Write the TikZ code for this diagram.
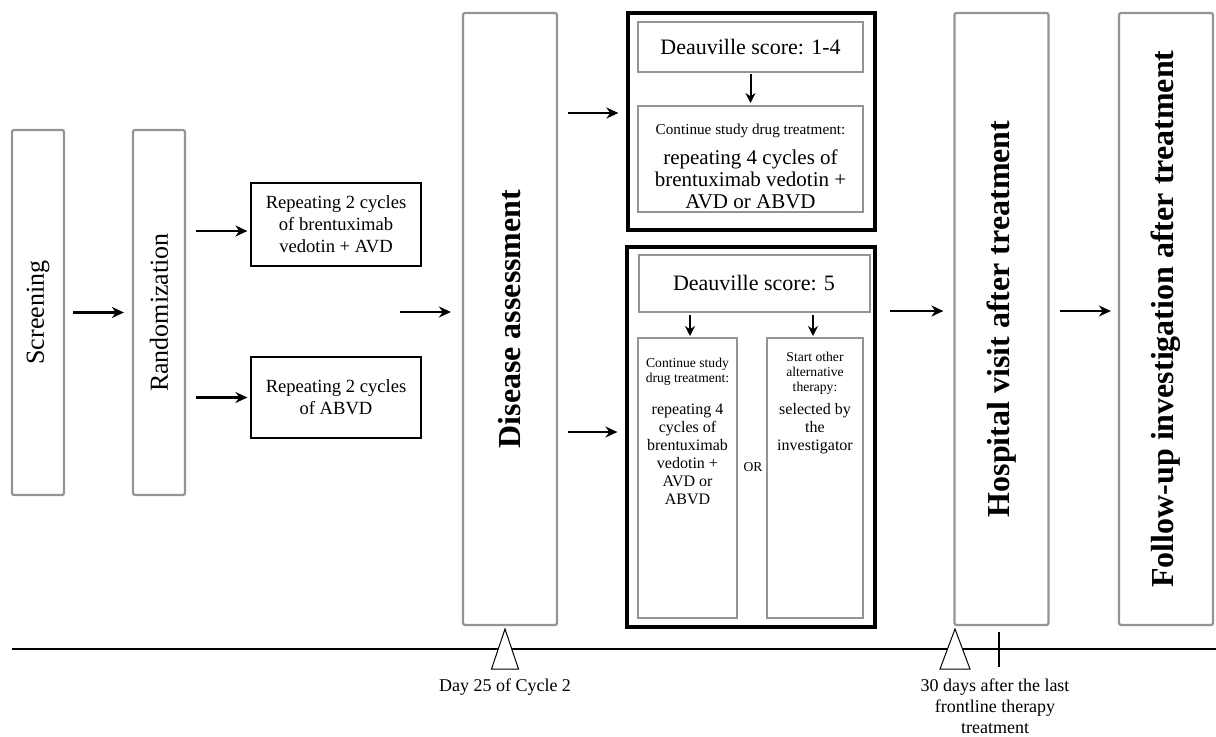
\documentclass[tikz,border=0pt]{standalone}
\usepackage{graphicx}
\usepackage{fontspec}
\setmainfont{Liberation Serif}
\usepackage{tikz}
\usetikzlibrary{positioning,arrows.meta,calc}

\newcommand{\tinytxt}{\fontsize{6.8}{7.5}\selectfont}
\newcommand{\subtxt}{\fontsize{8}{9}\selectfont}
\newcommand{\titletxt}{\fontsize{16}{19}\selectfont\bfseries}

\begin{document}
\begin{tikzpicture}[
        x=0.5pt, y=-0.5pt,
        stage/.style={draw=black!42, line width=1.1pt, rounded corners=1pt, inner sep=0pt, minimum width=47pt, minimum height=306pt},
        arm/.style={draw, line width=0.6pt, align=center, inner sep=0pt, minimum width=85pt, font=\fontsize{9.3}{11}\selectfont},
        group/.style={draw, line width=1.6pt, inner sep=0pt},
        inbox/.style={draw=black!42, line width=1pt, inner sep=0pt, align=center},
        arrow/.style={-{Stealth[length=6pt,width=5.5pt]}, line width=1.3pt},
        smallarrow/.style={-{Stealth[length=5pt,width=5pt]}, line width=1pt},
        marker/.style={draw, fill=white, line width=0.5pt},
        timelabel/.style={align=center, inner sep=0pt, font=\fontsize{9}{10.5}\selectfont}
    ]
    \useasboundingbox (0,0) rectangle (1216,736);

    % 筛选与随机
    \node[stage, minimum width=26pt, minimum height=182.5pt] (scr) at (38,312.5) {\rotatebox{90}{\fontsize{13}{15}\selectfont Screening}};
    \node[stage, minimum width=26pt, minimum height=182.5pt] (rand) at (159,312.5) {\rotatebox{90}{\fontsize{13}{15}\selectfont Randomization}};

    % 两个治疗组
    \node[arm, minimum height=41.5pt] (rep1) at (336,224.5) {Repeating 2 cycles\\of brentuximab\\vedotin + AVD};
    \node[arm, minimum height=40.5pt] (rep2) at (336,397.5) {Repeating 2 cycles\\of ABVD};
    \coordinate (armsout) at (400,312);

    % 疾病评估
    \node[stage] (dis) at (510,319) {\rotatebox{90}{\titletxt Disease assessment}};

    % Deauville 1-4
    \node[group, minimum width=123.5pt, minimum height=108.5pt] (topgrp) at (751.5,121.5) {};
    \node[inbox, minimum width=112.5pt, minimum height=25pt, font=\fontsize{11}{13}\selectfont] (d14) at (750.5,47) {Deauville score: 1-4};
    \node[inbox, minimum width=112.5pt, minimum height=53pt] (cont14) at (750.5,159) {};
    \node[anchor=north, align=center, inner sep=0pt, font=\fontsize{10.5}{11}\selectfont] (cont14txt) at ($(cont14.north)+(0,19)$)
        {{\fontsize{7.6}{9}\selectfont Continue study drug treatment:}\\[4pt]repeating 4 cycles of\\brentuximab vedotin +\\AVD or ABVD};

    % Deauville 5
    \node[group, minimum width=124pt, minimum height=190pt] (botgrp) at (751,437) {};
    \node[inbox, minimum width=115.5pt, minimum height=28.5pt, font=\fontsize{11}{13}\selectfont] (d5) at (754,283.5) {Deauville score: 5};
    \node[inbox, minimum width=49.5pt, minimum height=140pt] (lsub) at (687.5,478) {};
    \node[inbox, minimum width=48pt, minimum height=140pt] (rsub) at (815,478) {};
    \node[anchor=north, align=center, inner sep=0pt, font=\subtxt] (lsubtxt) at ($(lsub.north)+(0,21)$)
        {\tinytxt Continue study\\[-1.5pt]\tinytxt drug treatment:\\[7pt]repeating 4\\cycles of\\brentuximab\\vedotin +\\AVD or\\ABVD};
    \node[anchor=north, align=center, inner sep=0pt, font=\subtxt] (rsubtxt) at ($(rsub.north)+(0,15)$)
        {\tinytxt Start other\\[-1.5pt]\tinytxt alternative\\[-1.5pt]\tinytxt therapy:\\[2.5pt]selected by\\the\\investigator};
    \node[inner sep=0pt, font=\tinytxt] (ortxt) at (753,467) {OR};
    \coordinate (armsdone) at (890,311);

    % 治疗后
    \node[stage] (hv) at (1001.5,319) {\rotatebox{90}{\titletxt Hospital visit after treatment}};
    \node[stage] (fu) at (1166,319) {\rotatebox{90}{\titletxt Follow-up investigation after treatment}};

    % 连接箭头
    \draw[arrow, shorten <=4pt, shorten >=4pt] (scr) -- (rand);
    \draw[arrow, shorten <=5pt, shorten >=1.5pt] ($(rand.east |- rep1.west)+(0,6.5)$) -- ($(rep1.west)+(0,6.5)$);
    \draw[arrow, shorten <=5pt, shorten >=1.5pt] (rand.east |- rep2.west) -- (rep2.west);
    \draw[arrow, shorten >=5.5pt] (armsout) -- (armsout -| dis.west);
    \draw[arrow, shorten <=5pt, shorten >=4pt] ($(dis.east |- topgrp.west)+(0,-8.5)$) -- ($(topgrp.west)+(0,-8.5)$);
    \draw[arrow, shorten <=5pt, shorten >=4pt] ($(dis.east |- botgrp.west)+(0,-5)$) -- ($(botgrp.west)+(0,-5)$);
    \draw[smallarrow, shorten <=0.5pt, shorten >=1pt] (d14) -- (cont14);
    \draw[smallarrow, shorten <=1pt, shorten >=0.5pt] (d5.south -| lsub.north) ++(2.5,0) -- ($(lsub.north)+(2.5,0)$);
    \draw[smallarrow, shorten <=1pt, shorten >=0.5pt] (d5.south -| rsub.north) ++(-2,0) -- ($(rsub.north)+(-2,0)$);
    \draw[arrow, shorten >=5pt] (armsdone) -- (armsdone -| hv.west);
    \draw[arrow, shorten <=5pt, shorten >=3.5pt] ($(hv.east)+(0,-8)$) -- ($(fu.west)+(0,-8)$);

    % 时间轴
    \coordinate (tlstart) at (12,649);
    \coordinate (tlend) at (1216,649);
    \draw[line width=1.1pt] (tlstart) -- (tlend);
    \draw[marker] (505,629) -- (491.5,669) -- (518.5,669) -- cycle;
    \draw[marker] (955,629) -- (940,669) -- (970,669) -- cycle;
    \draw[line width=0.8pt] (999,632) -- (999,667);
    \node[timelabel, anchor=north] (day25) at (505,678) {Day 25 of Cycle 2};
    \node[timelabel, anchor=north] (thirty) at (995,678) {30 days after the last\\frontline therapy\\treatment};

\end{tikzpicture}
\end{document}
